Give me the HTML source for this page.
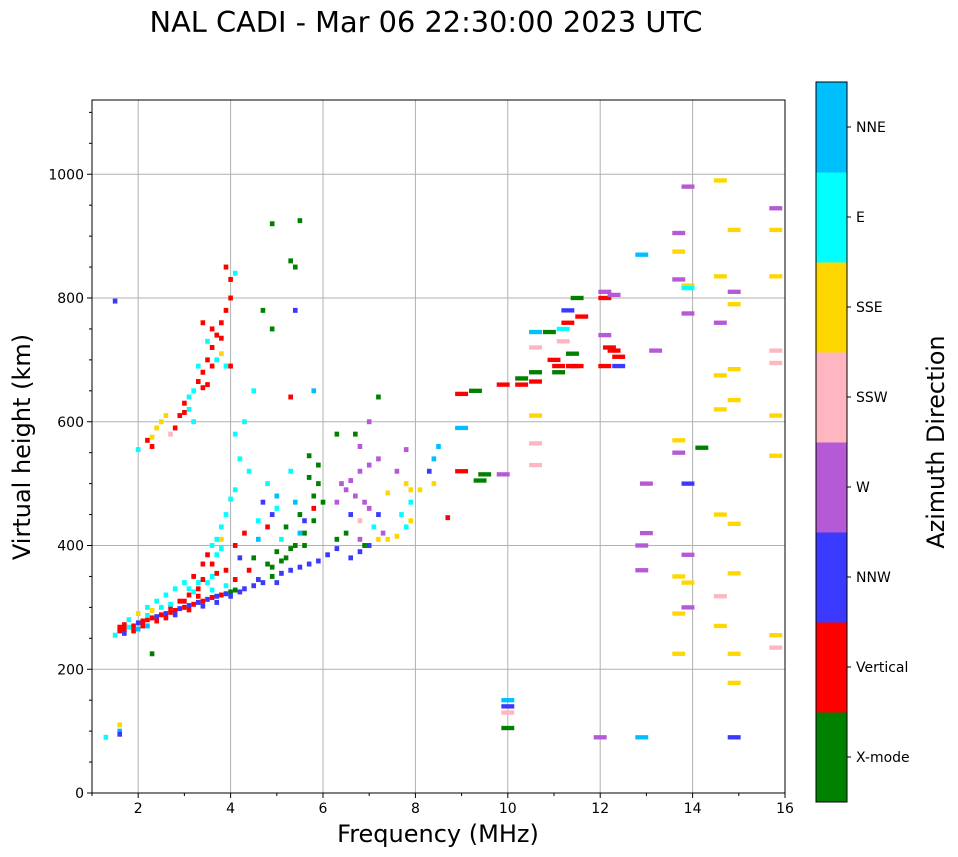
<!DOCTYPE html>
<html><head><meta charset="utf-8"><style>
body{margin:0;background:#fff;font-family:"DejaVu Sans","Liberation Sans",sans-serif}
svg{display:block}
</style></head><body>
<svg id="fig" width="958" height="857" font-family="DejaVu Sans, Liberation Sans, sans-serif">
<text x="426" y="32" font-size="28.8" text-anchor="middle">NAL CADI - Mar 06 22:30:00 2023 UTC</text>
<g id="grid"></g><g id="marks"></g><g id="axes"></g><g id="cbar"></g>
<text x="438" y="842" font-size="24" text-anchor="middle">Frequency (MHz)</text>
<text transform="translate(30,447) rotate(-90)" font-size="24" text-anchor="middle">Virtual height (km)</text>
<text transform="translate(944,442) rotate(-90)" font-size="23.8" text-anchor="middle">Azimuth Direction</text>
</svg>
<script>
const dirLabels=["X-mode","Vertical","NNW","W","SSW","SSE","E","NNE"];
const dirColors=["#008000","#ff0000","#3a3aff","#b659d6","#ffb6c1","#ffd700","#00ffff","#00bfff"];
const xTicks=[2,4,6,8,10,12,14,16];
const yTicks=[0,200,400,600,800,1000];
const echoes=[
[1.5,255,6],[1.6,262,1],[1.7,265,1],[1.8,268,6],[1.9,270,1],[2.0,275,2],[2.1,278,1],[2.2,280,1],[2.3,283,1],[2.4,285,2],[2.5,288,1],[2.6,290,2],[2.7,292,1],[2.8,295,1],[2.9,298,2],[3.0,300,1],[3.1,303,2],[3.2,305,1],[3.3,308,2],[3.4,310,1],[3.5,313,2],[3.6,316,1],[3.7,318,2],[3.8,320,1],[3.9,322,2],[4.0,325,0],[4.1,328,0],[4.2,325,2],
[1.6,268,1],[1.7,272,1],[1.9,262,1],[2.1,270,1],[2.2,287,6],[2.4,278,1],[2.6,283,1],[2.7,300,1],[2.8,288,2],[3.0,310,1],[3.1,296,1],[3.3,318,1],[3.4,302,2],[3.6,328,6],[3.7,308,2],[3.9,335,6],[4.0,318,2],
[1.8,280,6],[2.0,290,5],[2.2,300,6],[2.4,310,6],[2.6,320,6],[2.8,330,6],[3.0,340,6],[3.2,350,1],[3.4,370,1],[3.5,385,1],[3.6,400,6],[3.7,410,6],[3.8,430,6],[3.9,450,6],[4.0,475,6],[4.1,490,6],[2.2,270,7],[2.5,300,6],[2.9,310,1],[3.1,320,1],[3.3,330,1],[3.5,340,6],[3.7,355,1],[3.9,360,1],[4.1,345,1],[2.3,295,5],[2.7,305,6],[3.2,325,6],[3.6,350,6],[2.0,265,7],[1.7,258,2],[3.4,345,1],[3.6,370,1],[3.7,385,6],[3.8,395,6],[3.8,410,5],[3.3,340,6],[3.1,330,6],
[4.3,330,2],[4.5,335,2],[4.7,340,2],[4.9,350,0],[5.1,355,2],[5.3,360,2],[5.5,365,2],[5.7,370,2],[5.9,375,2],[6.1,385,2],[6.3,395,2],[6.6,380,2],[6.8,390,2],[7.0,400,2],[7.2,410,5],[7.4,410,5],[7.6,415,5],[7.8,430,6],
[4.5,380,0],[4.8,370,0],[5.0,390,0],[5.2,380,0],[5.4,400,0],[5.6,420,0],[5.2,430,0],[5.5,450,0],[5.8,480,0],[5.4,470,7],[5.0,460,6],[4.6,440,6],[4.3,420,1],[4.6,410,7],[4.8,430,1],[5.1,410,6],[5.7,510,0],[5.9,530,0],[5.3,520,6],[4.4,520,6],[4.2,540,6],[4.3,600,6],[4.5,650,6],[4.1,580,6],[4.7,470,2],[4.9,450,2],[5.6,440,2],[5.9,500,0],[6.0,470,0],[5.8,460,1],[4.1,400,1],[4.2,380,2],[4.4,360,1],[4.6,345,2],[5.0,340,2],[5.3,395,0],[5.1,375,0],[4.9,365,0],[5.6,400,0],[5.8,440,0],[5.5,420,7],[5.7,545,0],[4.8,500,6],[5.0,480,7],
[6.4,500,3],[6.6,505,3],[6.8,520,3],[7.0,530,3],[7.2,540,3],[6.5,490,3],[6.7,480,3],[6.9,470,3],[6.3,470,3],[6.6,450,2],[6.8,440,4],[7.0,460,3],[7.2,450,2],[6.5,420,0],[6.8,410,3],[7.1,430,6],[7.3,420,3],[6.9,400,0],[6.3,410,0],[6.7,580,0],[7.0,600,3],[6.8,560,3],[7.8,555,3],[7.8,500,5],[7.9,470,6],[7.7,450,6],[7.9,440,5],[7.6,520,3],[7.4,485,5],[7.9,490,5],[8.1,490,5],
[8.3,520,2],[8.4,540,7],[8.5,560,7],[8.4,500,5],[8.7,445,1],[9.0,520,1],[9.0,645,1],[9.0,590,7],[9.3,650,0],[9.5,515,0],[9.4,505,0],[9.9,515,3],[9.9,660,1],[10.3,670,0],[10.6,680,0],[10.6,665,1],[10.6,610,5],[10.6,565,4],[10.6,530,4],[10.3,660,1],[10.6,745,7],[10.6,720,4],[10.9,745,0],[11.0,700,1],[11.1,690,1],[11.2,730,4],[11.3,760,1],[11.4,710,0],[11.4,690,1],[11.3,780,2],[11.5,800,0],[11.6,770,1],[11.1,680,0],[11.5,690,1],[11.2,750,6],
[12.1,810,3],[12.1,800,1],[12.3,805,3],[12.1,740,3],[12.2,720,1],[12.3,715,1],[12.4,705,1],[12.4,690,2],[12.1,690,1],[12.0,90,3],[12.9,90,7],[12.9,870,7],[13.2,715,3],[13.0,500,3],[13.0,420,3],[12.9,400,3],[12.9,360,3],[13.7,905,3],[13.7,875,5],[13.7,830,3],[13.9,820,5],[13.9,816,6],[13.7,570,5],[13.7,550,3],[13.9,500,2],[13.9,385,3],[13.7,350,5],[13.9,340,5],[13.9,300,3],[13.7,290,5],[13.7,225,5],[13.9,980,3],[13.9,775,3],[14.6,990,5],[14.6,835,5],[14.6,760,3],[14.6,675,5],[14.6,620,5],[14.6,450,5],[14.6,318,4],[14.6,270,5],[14.9,910,5],[14.9,810,3],[14.9,790,5],[14.9,685,5],[14.9,635,5],[14.9,435,5],[14.9,355,5],[14.9,225,5],[14.9,178,5],[14.9,90,2],[15.8,945,3],[15.8,910,5],[15.8,835,5],[15.8,715,4],[15.8,695,4],[15.8,610,5],[15.8,545,5],[15.8,255,5],[15.8,235,4],
[2.0,555,6],[2.2,570,1],[2.3,575,5],[2.4,590,5],[2.5,600,5],[2.6,610,5],[2.3,560,1],[2.8,590,1],[2.9,610,1],[3.0,630,1],[3.1,640,6],[3.2,650,6],[3.3,665,1],[3.4,680,1],[3.5,700,1],[3.6,720,1],[3.7,740,1],[3.8,760,1],[3.9,780,1],[4.0,800,1],[4.0,830,1],[3.3,690,6],[3.5,730,6],[3.6,750,1],[3.4,760,1],[3.1,620,6],[3.7,700,6],[3.9,690,6],[4.0,690,1],[3.8,710,5],[3.9,850,1],[4.1,840,6],[3.2,600,6],[3.5,660,1],[2.7,580,4],[3.0,615,1],[3.4,655,1],[3.6,690,1],[3.8,735,1],
[1.5,795,2],[4.9,920,0],[5.5,925,0],[5.3,860,0],[5.4,850,0],[4.9,750,0],[4.7,780,0],[5.4,780,2],[5.3,640,1],[5.8,650,7],[6.3,580,0],[7.2,640,0],[10.0,105,0],[10.0,150,7],[10.0,140,2],[10.0,130,4],[1.6,100,7],[1.6,95,2],[1.6,110,5],[1.3,90,6],[2.3,225,0],[14.2,558,0]
];
const NS="http://www.w3.org/2000/svg";
const L=92,R=785,T=100,B=793,xmin=1,xmax=16,ymin=0,ymax=1120;
const xs=v=>L+(v-xmin)/(xmax-xmin)*(R-L);
const ys=v=>B-(v-ymin)/(ymax-ymin)*(B-T);
function mk(tag,attrs,parent){const e=document.createElementNS(NS,tag);for(const k in attrs)e.setAttribute(k,attrs[k]);parent.appendChild(e);return e;}
const grid=document.getElementById('grid'),marks=document.getElementById('marks'),axes=document.getElementById('axes'),cbar=document.getElementById('cbar');
xTicks.forEach(t=>{const g=mk('line',{x1:xs(t),x2:xs(t),y1:T,y2:B,stroke:'#b0b0b0','stroke-width':1},grid);

});
yTicks.forEach(t=>{const g=mk('line',{x1:L,x2:R,y1:ys(t),y2:ys(t),stroke:'#b0b0b0','stroke-width':1},grid);

});
echoes.forEach(p=>{const w=p[0]>=9?0.28:0.1;const h=p[0]>=9?7:8;
const r=mk('rect',{x:xs(p[0]-w/2),y:ys(p[1]+h/2),width:xs(p[0]+w/2)-xs(p[0]-w/2),height:ys(0)-ys(h),fill:dirColors[p[2]]},marks);

});
const fr=mk('rect',{x:L,y:T,width:R-L,height:B-T,fill:'none',stroke:'#000','stroke-width':1},axes);


for(let m=1;m<=16;m++){mk('line',{x1:xs(m),x2:xs(m),y1:B,y2:B+(m%2===0?5:3),stroke:'#000'},axes);}
for(let m=0;m<=1100;m+=50){mk('line',{x1:L,x2:L-(m%200===0?5:3),y1:ys(m),y2:ys(m),stroke:'#000'},axes);}
xTicks.forEach(t=>{const e=mk('text',{x:xs(t),y:B+20,'font-size':14,'text-anchor':'middle'},axes);e.textContent=t;

});
yTicks.forEach(t=>{const e=mk('text',{x:L-8,y:ys(t)+5,'font-size':14,'text-anchor':'end'},axes);e.textContent=t;

});
const cx=816,cw=31,ct=82,cb=802,seg=(cb-ct)/dirLabels.length;
dirLabels.forEach((lab,i)=>{const y0=cb-(i+1)*seg;
const r=mk('rect',{x:cx,y:y0,width:cw,height:seg+0.5,fill:dirColors[i]},cbar);


mk('line',{x1:cx+cw,x2:cx+cw+4,y1:y0+seg/2,y2:y0+seg/2,stroke:'#000'},cbar);
const t=mk('text',{x:cx+cw+9,y:y0+seg/2+5,'font-size':14},cbar);t.textContent=lab;

});
const cf=mk('rect',{x:cx,y:ct,width:cw,height:cb-ct,fill:'none',stroke:'#000'},cbar);


</script>
</body></html>
